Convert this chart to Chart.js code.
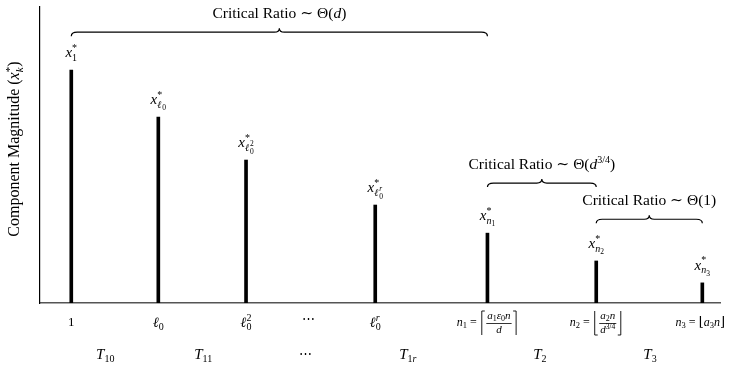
<!DOCTYPE html>
<html>
<head>
<meta charset="utf-8">
<script src="https://cdn.jsdelivr.net/npm/chart.js@4.4.1/dist/chart.umd.min.js"></script>
<style>
  html, body { margin: 0; padding: 0; background: #fff; }
  #wrap { width: 735px; height: 369px; }
</style>
</head>
<body>
<div id="wrap"><canvas id="stemChart" width="735" height="369"></canvas></div>
<script>
// stems: index, position along the (unitless) axis, magnitude
const categories = ['1', 'l0', 'l0^2', 'l0^r', 'n1', 'n2', 'n3'];
const positions = [4.6, 17.4, 30.3, 49.3, 65.8, 81.8, 97.4];
const magnitudes = [0.787, 0.628, 0.483, 0.331, 0.236, 0.142, 0.068];

// regime labels on the second row (axis position)
const regimePos = [9.6, 24.0, 39.0, 54.1, 73.5, 89.7];

// braces: from stem, to stem, height (axis units)
const braceFrom = [0, 4, 5];
const braceTo = [4, 5, 6];
const braceLevel = [0.915, 0.405, 0.283];

const SERIF = '"Liberation Serif", "DejaVu Serif", serif';

// tiny run-based math text
function R(t, s, it, dy, stack) { return {t: t, s: s, it: !!it, dy: dy || 0, stack: !!stack}; }
function FR(num, den, s) { return {frac: [num, den], s: s, dy: 0}; }
function BR(kind, h) { return {br: kind, h: h, dy: 0}; }

function setFont(ctx, r) {
  ctx.font = (r.it ? 'italic ' : '') + r.s + 'px ' + SERIF;
}
function runWidth(ctx, r) {
  if (r.frac) return Math.max(layout(ctx, r.frac[0]), layout(ctx, r.frac[1])) + 3;
  if (r.br) return 6;
  setFont(ctx, r);
  return ctx.measureText(r.t).width;
}
function layout(ctx, runs) {
  let start = 0, end = 0;
  runs.forEach(r => {
    const w = runWidth(ctx, r);
    if (r.stack) { r._x = start; end = Math.max(end, start + w); }
    else { start = end; r._x = start; end = start + w; }
    r._w = w;
  });
  return end;
}
function drawRuns(ctx, runs, cx, cy) {
  const total = layout(ctx, runs);
  const x0 = cx - total / 2;
  ctx.textAlign = 'left';
  ctx.textBaseline = 'middle';
  runs.forEach(r => {
    const x = x0 + r._x, y = cy + r.dy;
    if (r.frac) {
      drawRuns(ctx, r.frac[0], x + r._w / 2, y - 6.5);
      drawRuns(ctx, r.frac[1], x + r._w / 2, y + 7.5);
      ctx.beginPath(); ctx.lineWidth = 0.8;
      ctx.moveTo(x + 0.5, y + 0.5); ctx.lineTo(x + r._w - 0.5, y + 0.5); ctx.stroke();
    } else if (r.br) {
      const h = r.h / 2;
      ctx.beginPath(); ctx.lineWidth = 0.9;
      if (r.br === 'lceil') { ctx.moveTo(x + 5, y - h); ctx.lineTo(x + 2, y - h); ctx.lineTo(x + 2, y + h); }
      if (r.br === 'rceil') { ctx.moveTo(x + 1, y - h); ctx.lineTo(x + 4, y - h); ctx.lineTo(x + 4, y + h); }
      if (r.br === 'lfloor') { ctx.moveTo(x + 2, y - h); ctx.lineTo(x + 2, y + h); ctx.lineTo(x + 5, y + h); }
      if (r.br === 'rfloor') { ctx.moveTo(x + 4, y - h); ctx.lineTo(x + 4, y + h); ctx.lineTo(x + 1, y + h); }
      ctx.stroke();
    } else {
      setFont(ctx, r);
      ctx.fillText(r.t, x, y);
    }
  });
}

function xStar(sub) {
  return [R('x', 15, true), R('*', 10, false, -5)].concat(sub);
}
const stemLabels = [
  xStar([R('1', 10, false, 5, true)]),
  xStar([R('ℓ', 10, true, 5, true), R('0', 7.5, false, 8)]),
  xStar([R('ℓ', 10, true, 5, true), R('2', 7.5, false, 1), R('0', 7.5, false, 9, true)]),
  xStar([R('ℓ', 10, true, 5, true), R('r', 7.5, true, 1), R('0', 7.5, false, 9, true)]),
  xStar([R('n', 10, true, 5, true), R('1', 7.5, false, 8)]),
  xStar([R('n', 10, true, 5, true), R('2', 7.5, false, 8)]),
  xStar([R('n', 10, true, 5, true), R('3', 7.5, false, 8)])
];

const tickLabels = [
  [R('1', 13)],
  [R('ℓ', 14, true), R('0', 10, false, 4)],
  [R('ℓ', 14, true), R('2', 10, false, -5), R('0', 10, false, 4, true)],
  [R('ℓ', 14, true), R('r', 10, true, -5), R('0', 10, false, 4, true)],
  [R('n', 12, true), R('1', 8.5, false, 3), R(' = ', 12), BR('lceil', 24),
    FR([R('a', 11, true), R('1', 8, false, 2), R('ε', 11, true), R('0', 8, false, 2), R('n', 11, true)], [R('d', 11, true)]),
    BR('rceil', 24)],
  [R('n', 12, true), R('2', 8.5, false, 3), R(' = ', 12), BR('lfloor', 24),
    FR([R('a', 11, true), R('2', 8, false, 2), R('n', 11, true)], [R('d', 11, true), R('3/4', 7.5, false, -3)]),
    BR('rfloor', 24)],
  [R('n', 12, true), R('3', 8.5, false, 3), R(' = ', 12), R('⌊', 13), R('a', 12, true), R('3', 8.5, false, 3), R('n', 12, true), R('⌋', 13)]
];
const dotsLabel = [R('⋯', 13)];

const regimeLabels = [
  [R('T', 15, true), R('10', 10, false, 4)],
  [R('T', 15, true), R('11', 10, false, 4)],
  [R('⋯', 13)],
  [R('T', 15, true), R('1', 10, false, 4), R('r', 10, true, 4)],
  [R('T', 15, true), R('2', 10, false, 4)],
  [R('T', 15, true), R('3', 10, false, 4)]
];

const braceLabels = [
  [R('Critical Ratio ∼ Θ(', 15.5), R('d', 15.5, true), R(')', 15.5)],
  [R('Critical Ratio ∼ Θ(', 15.5), R('d', 15.5, true), R('3/4', 10, false, -5), R(')', 15.5)],
  [R('Critical Ratio ∼ Θ(1)', 15.5)]
];

const yTitle = [R('Component Magnitude (', 16), R('x', 16, true), R('*', 11, false, -5), R('k', 11, true, 5, true), R(')', 16)];

function brace(ctx, x1, x2, y) {
  const m = (x1 + x2) / 2;
  ctx.beginPath();
  ctx.lineWidth = 1.2;
  ctx.moveTo(x1, y + 4);
  ctx.quadraticCurveTo(x1, y, x1 + 6, y);
  ctx.lineTo(m - 5, y);
  ctx.quadraticCurveTo(m, y, m, y - 4);
  ctx.quadraticCurveTo(m, y, m + 5, y);
  ctx.lineTo(x2 - 6, y);
  ctx.quadraticCurveTo(x2, y, x2, y + 4);
  ctx.stroke();
}

const annotate = {
  id: 'annotate',
  afterDraw(chart) {
    const ctx = chart.ctx;
    const xs = chart.scales.x, ys = chart.scales.y;
    ctx.save();
    ctx.fillStyle = '#000';
    ctx.strokeStyle = '#000';
    // labels over stems
    positions.forEach((p, i) => {
      drawRuns(ctx, stemLabels[i], xs.getPixelForValue(p), ys.getPixelForValue(magnitudes[i]) - 17);
    });
    // tick labels
    positions.forEach((p, i) => {
      const dx = i === 6 ? -2 : 0;
      drawRuns(ctx, tickLabels[i], xs.getPixelForValue(p) + dx, ys.bottom + 20);
    });
    drawRuns(ctx, dotsLabel, xs.getPixelForValue((positions[2] + positions[3]) / 2) - 2, ys.bottom + 17);
    regimePos.forEach((p, i) => {
      drawRuns(ctx, regimeLabels[i], xs.getPixelForValue(p), ys.bottom + 52);
    });
    // braces
    braceFrom.forEach((a, i) => {
      const x1 = xs.getPixelForValue(positions[a]), x2 = xs.getPixelForValue(positions[braceTo[i]]);
      const y = ys.getPixelForValue(braceLevel[i]);
      brace(ctx, x1, x2, y);
      drawRuns(ctx, braceLabels[i], (x1 + x2) / 2, y - 18);
    });
    // y title
    ctx.translate(15, ys.top + (ys.bottom - ys.top) * 0.48);
    ctx.rotate(-Math.PI / 2);
    drawRuns(ctx, yTitle, 0, 0);
    ctx.restore();
  }
};

const ctx = document.getElementById('stemChart').getContext('2d');
const myChart = new Chart(ctx, {
  type: 'bar',
  data: {
    labels: categories,
    datasets: [{
      data: positions.map((p, i) => ({x: p, y: magnitudes[i]})),
      backgroundColor: '#000',
      borderWidth: 0,
      barThickness: 3
    }]
  },
  options: {
    responsive: false,
    animation: false,
    layout: { padding: { left: 40, right: 15, top: 7, bottom: 66 } },
    plugins: { legend: { display: false }, tooltip: { enabled: false } },
    scales: {
      x: {
        type: 'linear', min: 0, max: 100, offset: false,
        ticks: { display: false },
        grid: { display: false, drawTicks: false, offset: false },
        border: { color: '#555', width: 1.5 },
        afterFit: s => { s.height = 0; }
      },
      y: {
        min: 0, max: 1,
        ticks: { display: false },
        grid: { display: false, drawTicks: false },
        border: { color: '#000', width: 1.2 },
        afterFit: s => { s.width = 0; }
      }
    }
  },
  plugins: [annotate]
});
</script>
</body>
</html>
